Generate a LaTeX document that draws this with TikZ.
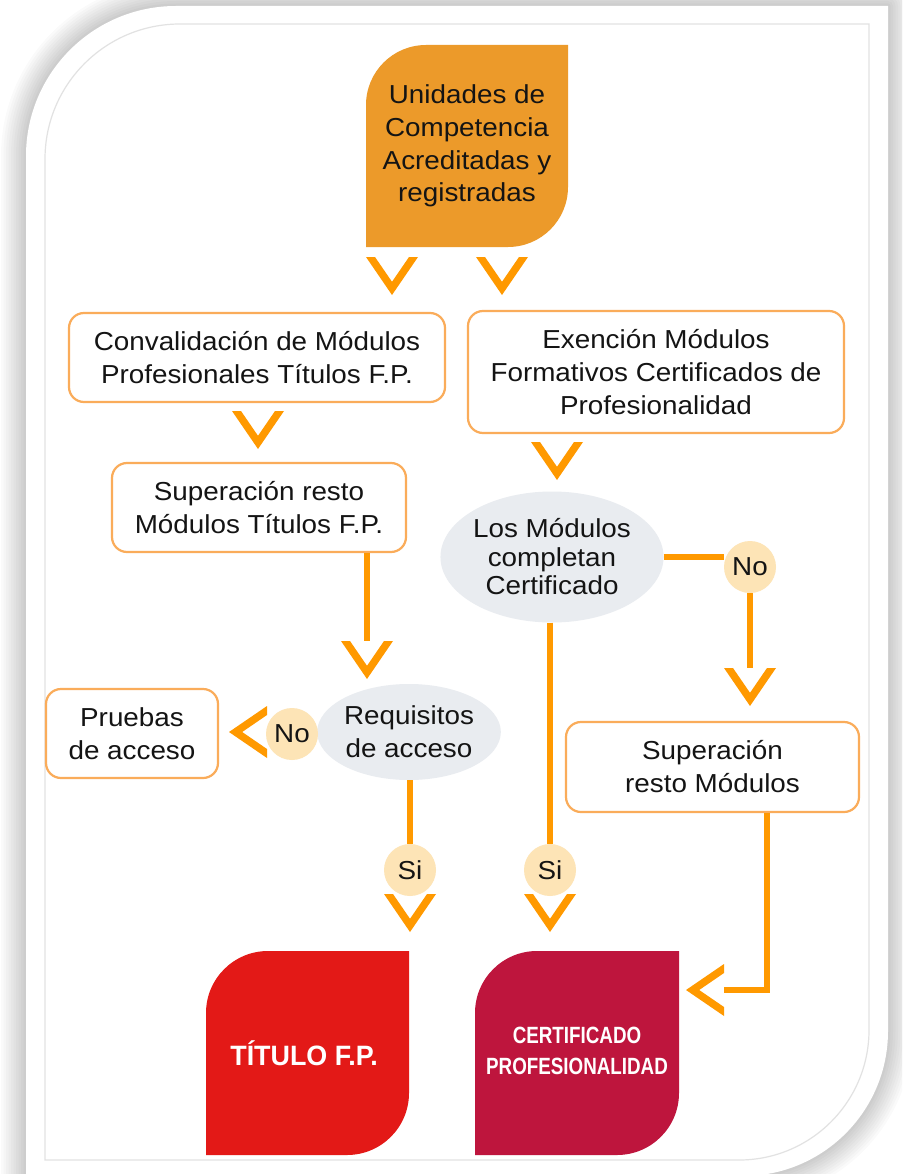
\documentclass[tikz,border=0pt]{standalone}
\usepackage{fontspec}
\setmainfont{Liberation Sans}[FakeStretch=1.07]
\newfontfamily\titfont{Liberation Sans}[FakeStretch=0.96]
\newfontfamily\certfont{Liberation Sans}[FakeStretch=0.8]
\usetikzlibrary{shapes.geometric}
\definecolor{conn}{RGB}{255,153,0}
\definecolor{boxline}{RGB}{250,172,90}
\definecolor{topor}{RGB}{236,154,42}
\definecolor{titred}{RGB}{227,25,23}
\definecolor{certred}{RGB}{190,21,61}
\definecolor{ellfill}{RGB}{233,236,240}
\definecolor{circfill}{RGB}{253,228,182}
\definecolor{framegray}{RGB}{226,226,226}
\definecolor{txt}{RGB}{20,20,20}
\newcommand\mainfs{\fontsize{26pt}{33pt}\selectfont}
\newcommand\chevD[3]{%
  \fill[conn] ({#2-26},{#3}) -- ({#2-17},{#3}) -- ({#2},{#3+24.8}) -- ({#2+17},{#3}) -- ({#2+26},{#3}) -- ({#2},{#3+38}) -- cycle;
  \coordinate (#1) at (#2,#3);}
\newcommand\chevL[3]{%
  \fill[conn] ({#2+38},{#3-26}) -- ({#2+38},{#3-17}) -- ({#2+13.2},{#3}) -- ({#2+38},{#3+17}) -- ({#2+38},{#3+26}) -- ({#2},{#3}) -- cycle;
  \coordinate (#1) at ({#2+38},{#3});}
\newcommand\leafshape[6]{%
  \fill[#1] (#2,#5) -- (#2,{#3+#6}) arc[start angle=180,end angle=270,radius=#6] -- (#4,#3) -- (#4,{#5-#6}) arc[start angle=0,end angle=90,radius=#6] -- cycle;}
\tikzset{
  box/.style={draw=boxline, line width=2.2pt, fill=white, rounded corners=15pt, minimum height=89pt, inner sep=0pt, align=center, text=txt, font=\mainfs},
  ell/.style={ellipse, fill=ellfill, inner sep=0pt, align=center, text=txt, font=\mainfs},
  yesno/.style={circle, fill=circfill, minimum size=52pt, inner sep=0pt, text=txt, font=\mainfs},
  link/.style={draw=conn, line width=6.5pt},
}
\begin{document}
\begin{tikzpicture}[x=1pt,y=-1pt]
\useasboundingbox (0,0) rectangle (902,1174);
\clip (0,0) rectangle (902,1174);
\fill[white] (0,0) rectangle (902,1174);
% shadow
\foreach \w in {50,45,...,5} {
  \draw[black, opacity=0.02, line width=\w pt, line join=round] (26,1176) -- (26,156) arc[start angle=180,end angle=270,radius=150] -- (888,6) -- (888,1031) arc[start angle=0,end angle=90,radius=145] -- cycle;
}
\fill[white] (26,1176) -- (26,156) arc[start angle=180,end angle=270,radius=150] -- (888,6) -- (888,1031) arc[start angle=0,end angle=90,radius=145] -- cycle;
\draw[framegray, line width=1.2pt] (45,1160) -- (45,159) arc[start angle=180,end angle=270,radius=135] -- (869,24) -- (869,1030) arc[start angle=0,end angle=90,radius=130] -- cycle;

% leaf shapes
\leafshape{topor}{366}{45}{568}{247}{60}
\node[text=txt, align=center, font=\fontsize{26pt}{32.7pt}\selectfont] (uc) at (467,146) {Unidades de\\Competencia\\Acreditadas y\\registradas};
\leafshape{titred}{206}{951}{409}{1155}{62}
\node[text=white, font=\titfont\bfseries\fontsize{28pt}{30pt}\selectfont] (tit) at (304,1053) {TÍTULO F.P.};
\leafshape{certred}{475}{951}{679}{1155}{62}
\node[text=white, align=center, font=\certfont\bfseries\fontsize{23.5pt}{31pt}\selectfont] (cert) at (577,1051) {CERTIFICADO\\PROFESIONALIDAD};

% boxes
\node[box, minimum width=376pt] (conv) at (257,357.5) {Convalidación de Módulos\\Profesionales Títulos F.P.};
\node[box, minimum width=376pt, minimum height=122pt] (exen) at (656,372) {Exención Módulos\\Formativos Certificados de\\Profesionalidad};
\node[box, minimum width=294pt] (sup1) at (259,507.5) {Superación resto\\Módulos Títulos F.P.};
\node[box, minimum width=172pt] (prue) at (132,733.5) {Pruebas\\de acceso};
\node[box, minimum width=293pt, minimum height=90pt] (sup2) at (712.5,767) {Superación\\resto Módulos};
\node[ell, minimum width=222pt, minimum height=131pt, font=\fontsize{26pt}{28.5pt}\selectfont] (lm) at (552,557) {Los Módulos\\completan\\Certificado};
\node[ell, minimum width=176pt, minimum height=96pt] (req) at (409,732) {Requisitos\\de acceso};
\node[yesno] (no1) at (292,734) {No};
\node[yesno] (no2) at (750,567) {No};
\node[yesno] (si1) at (410,870) {Si};
\node[yesno] (si2) at (550,870) {Si};

% chevrons
\chevD{c1}{392}{257}
\chevD{c2}{502}{257}
\chevD{c3}{258}{411}
\chevD{c4}{367}{641}
\chevD{c6}{410}{894}
\chevD{c7}{557}{442}
\chevD{c8}{750}{668}
\chevD{c9}{550}{894}
\chevL{c5}{229}{732}
\chevL{c10}{686}{990}
\coordinate (bend) at (767,990);

% connectors
\draw[link] (sup1.south -| c4) -- (c4);
\draw[link] (req.south -| si1) -- (si1.north);
\draw[link] (lm.east) -- (lm.east -| no2.west);
\draw[link] (no2.south) -- (c8);
\draw[link] (lm.south -| si2) -- (si2.north);
\draw[link] (sup2.south -| bend) -- (bend) -- (c10);
\end{tikzpicture}
\end{document}
